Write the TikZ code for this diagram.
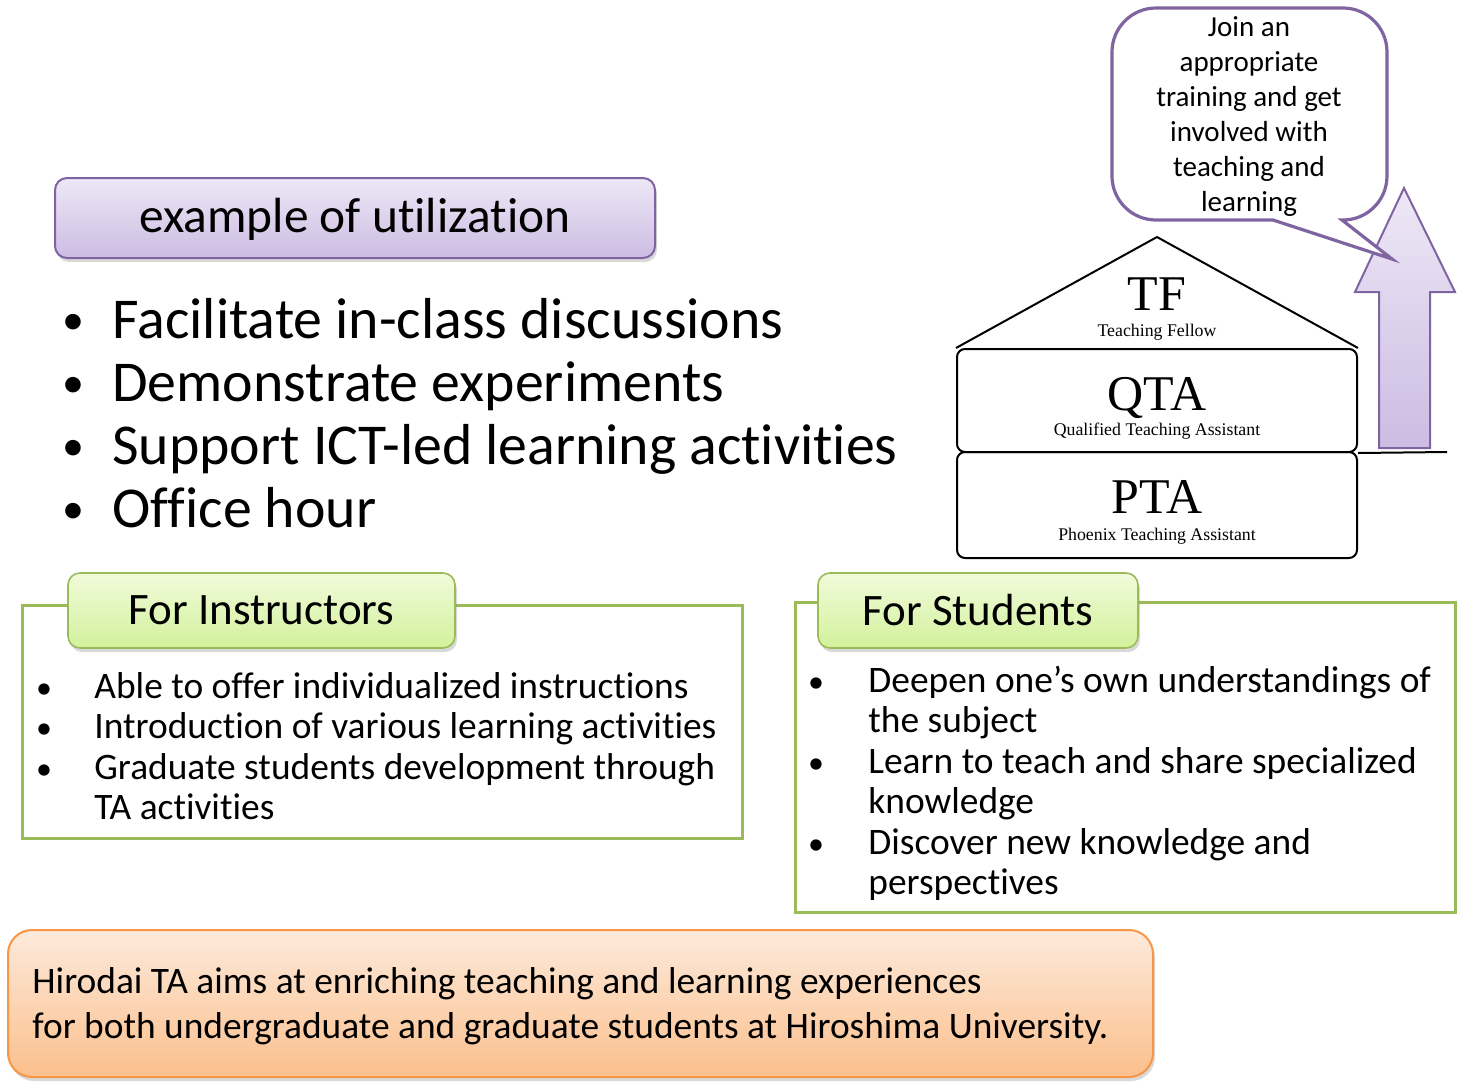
\documentclass[tikz,border=0pt]{standalone}
\usepackage{fontspec}
\setmainfont{Carlito}[Ligatures=NoCommon]
\newfontfamily\housefont{Liberation Serif}
\usetikzlibrary{positioning}
\usetikzlibrary{shadows}

\definecolor{lilacline}{HTML}{8064A2}
\definecolor{lilactop}{HTML}{EEE8F6}
\definecolor{lilacbottom}{HTML}{CCBCE3}
\definecolor{leafline}{HTML}{9BBB59}
\definecolor{leaftop}{HTML}{F1FBDB}
\definecolor{leafbottom}{HTML}{D2F19B}
\definecolor{peachline}{HTML}{F79646}
\definecolor{peachtop}{HTML}{FDEADB}
\definecolor{peachbottom}{HTML}{FBBF8C}

\begin{document}
\begin{tikzpicture}[x=0.5pt, y=-0.5pt,
softshadow/.style={drop shadow={opacity=0.3, shadow xshift=1pt, shadow yshift=-2pt}},
titlenode/.style={rectangle, rounded corners=6pt, draw=lilacline, line width=1pt, top color=lilactop, bottom color=lilacbottom, minimum width=300pt, minimum height=40pt, font=\fontsize{24.7}{28}\selectfont, softshadow},
tabnode/.style={rectangle, rounded corners=6pt, draw=leafline, line width=0.8pt, top color=leaftop, bottom color=leafbottom, minimum height=37.5pt, font=\fontsize{22.5}{26}\selectfont, softshadow},
framenode/.style={rectangle, draw=leafline, line width=1.5pt},
housebox/.style={rectangle, rounded corners=4pt, draw=black, line width=1pt, minimum width=200pt},
bigname/.style={font=\housefont\fontsize{25}{25}\selectfont, anchor=base, inner sep=0pt},
smallname/.style={font=\housefont\fontsize{8.9}{10}\selectfont, anchor=base, inner sep=0pt},
bigitem/.style={anchor=base west, inner sep=0pt, font=\fontsize{28.9}{31.5}\selectfont},
item/.style={anchor=base west, inner sep=0pt, align=left, font=\fontsize{18.7}{20.25}\selectfont},
dot/.style={anchor=base, inner sep=0pt},
]
\useasboundingbox (0,0) rectangle (1464,1088);

% Title and main uses
\node[titlenode, text depth=0.6ex] (title) at (355,218) {example of utilization};
\foreach \txt [count=\i] in {Facilitate in-class discussions, Demonstrate experiments, Support ICT-led learning activities, Office hour} {
  \node[dot, font=\fontsize{22}{30}\selectfont] (usedot\i) at (73,{334+63*(\i-1)}) {•};
  \node[bigitem] (use\i) at (112,{338+63*(\i-1)}) {\txt};
}

% House of TA ranks
\node[housebox, minimum height=51.5pt] (qta) at (1157,400.5) {};
\node[housebox, minimum height=53pt] (pta) at (1157,505) {};
\coordinate (roof) at (1157,237);
\draw[line width=1pt] (qta.north west) -- (roof) -- (qta.north east);
\node[bigname] (tfname) at (1157,310) {TF};
\node[smallname] (tfsub) at (1157,336) {Teaching Fellow};
\node[bigname] (qtaname) at (1157,410) {QTA};
\node[smallname] (qtasub) at (1157,435) {Qualified Teaching Assistant};
\node[bigname] (ptaname) at (1157,513) {PTA};
\node[smallname] (ptasub) at (1157,540) {Phoenix Teaching Assistant};

% Up arrow and ground line
\coordinate (groundend) at (1447,452);
\draw[line width=1pt] (qta.south east) -- (groundend);
\draw[draw=lilacline, line width=1pt, top color=lilactop, bottom color=lilacbottom]
  (1379,448) -- (1379,292) -- (1355,292) -- (1404,188) -- (1455,292) -- (1430,292) -- (1430,448) -- cycle;

% Speech bubble
\draw[draw=lilacline, line width=1.6pt, fill=white]
  (1273,220) [rounded corners=22pt] -- (1112,220) -- (1112,8) -- (1387,8) -- (1387,220) [sharp corners] -- (1342,220) -- (1392,259) -- cycle;
\node[inner sep=0pt, anchor=base, align=center, font=\fontsize{14.5}{17.5}\selectfont] (bubble) at (1249,211)
  {Join an\\appropriate\\training and get\\involved with\\teaching and\\learning};

% For Instructors
\node[framenode, minimum width=360pt, minimum height=116.5pt] (instrframe) at (382,721.5) {};
\node[tabnode, minimum width=193.5pt] (instrtab) at (261.5,610.5) {For Instructors};
\foreach \txt/\first/\last [count=\i] in {Able to offer individualized instructions/0/0, Introduction of various learning activities/1/1, {Graduate students development through\\TA activities}/2/3} {
  \node[dot, font=\fontsize{16}{20}\selectfont] (instrdot\i) at (44,{698+40.5*\first}) {•};
  \node[item] (instr\i) at (94,{698+40.5*\last}) {\txt};
}

% For Students
\node[framenode, minimum width=330pt, minimum height=155pt] (studframe) at (1125,757) {};
\node[tabnode, minimum width=160pt] (studtab) at (978,610.5) {For Students};
\foreach \txt/\first/\last [count=\i] in {{Deepen one’s own understandings of\\the subject}/0/1, {Learn to teach and share specialized\\knowledge}/2/3, {Discover new knowledge and\\perspectives}/4/5} {
  \node[dot, font=\fontsize{16}{20}\selectfont] (studdot\i) at (816,{692+40.5*\first}) {•};
  \node[item] (stud\i) at (868,{692+40.5*\last}) {\txt};
}

% Aim of Hirodai TA
\node[rectangle, rounded corners=12pt, draw=peachline, line width=1pt, top color=peachtop, bottom color=peachbottom, minimum width=572.5pt, minimum height=73.5pt, softshadow] (aimbox) at (580.5,1003.5) {};
\node[item, font=\fontsize{18.7}{22.5}\selectfont] (aim) at (32,1038)
  {Hirodai TA aims at enriching teaching and learning experiences\\for both undergraduate and graduate students at Hiroshima University.};
\end{tikzpicture}
\end{document}
